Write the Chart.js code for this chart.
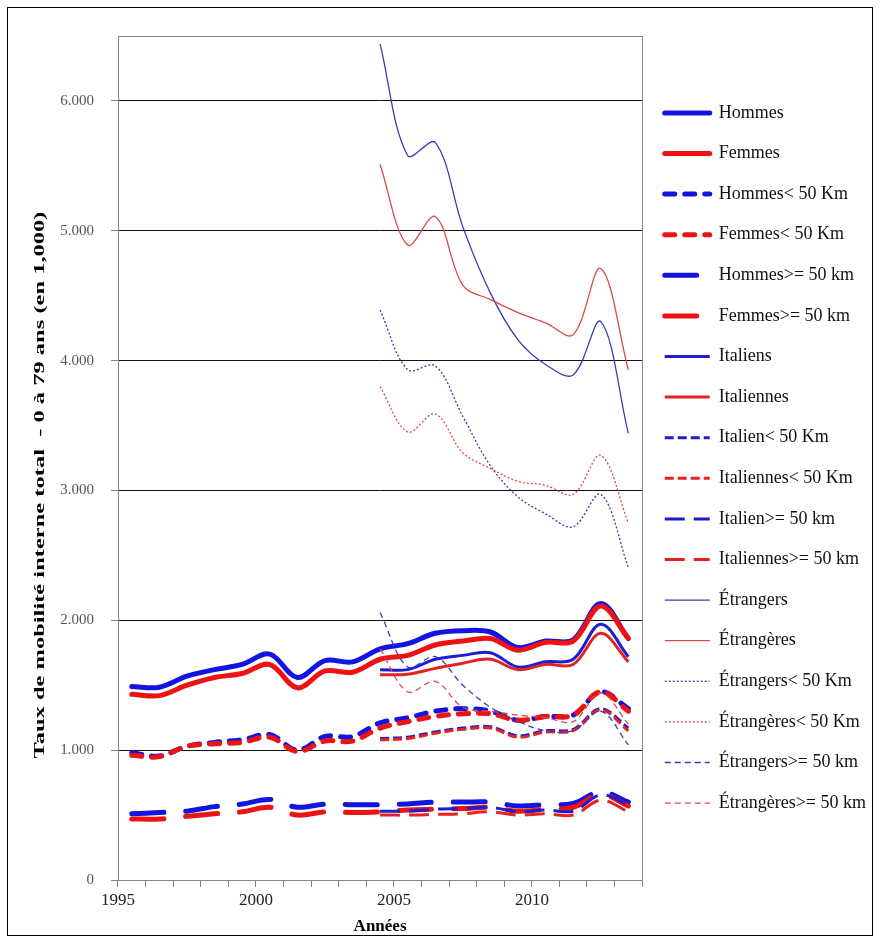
<!DOCTYPE html>
<html>
<head>
<meta charset="utf-8">
<script src="https://cdn.jsdelivr.net/npm/chart.js@4.4.0/dist/chart.umd.min.js"></script>
<style>
  body { margin: 0; background: #fff; }
  #wrap { position: relative; width: 880px; height: 941px; }
  #cadre { position: absolute; left: 7px; top: 7px; width: 864px; height: 927px; border: 1px solid #000; pointer-events: none; }
</style>
</head>
<body>
<div id="wrap">
  <canvas id="lineChart"></canvas>
  <div id="cadre"></div>
</div>
<script>
// années (catégories)
var annees = ['1995', '1996', '1997', '1998', '1999', '2000', '2001', '2002', '2003', '2004',
              '2005', '2006', '2007', '2008', '2009', '2010', '2011', '2012', '2013'];
var vide = [null, null, null, null, null, null, null, null, null]; // 1995-2003 sans données

// séries totales 1995-2013
var hommes = [1.49, 1.485, 1.57, 1.62, 1.66, 1.74, 1.56, 1.69, 1.68, 1.78, 1.82, 1.90, 1.92, 1.91, 1.79, 1.84, 1.85, 2.13, 1.86];
var femmes = [1.43, 1.42, 1.50, 1.56, 1.59, 1.66, 1.48, 1.61, 1.60, 1.70, 1.73, 1.81, 1.84, 1.86, 1.77, 1.83, 1.84, 2.11, 1.86];
var hommesMoins50 = [0.98, 0.955, 1.03, 1.06, 1.08, 1.12, 1.00, 1.105, 1.105, 1.21, 1.25, 1.30, 1.32, 1.30, 1.23, 1.26, 1.27, 1.45, 1.32];
var femmesMoins50 = [0.96, 0.95, 1.03, 1.05, 1.06, 1.10, 0.99, 1.07, 1.07, 1.17, 1.22, 1.26, 1.28, 1.28, 1.23, 1.26, 1.27, 1.45, 1.30];
var hommesPlus50 = [0.51, 0.52, 0.53, 0.565, 0.585, 0.62, 0.56, 0.585, 0.58, 0.58, 0.585, 0.60, 0.60, 0.60, 0.57, 0.58, 0.59, 0.68, 0.60];
var femmesPlus50 = [0.47, 0.47, 0.49, 0.51, 0.525, 0.56, 0.50, 0.525, 0.52, 0.525, 0.54, 0.545, 0.55, 0.56, 0.53, 0.545, 0.56, 0.66, 0.57];

// séries 2004-2013
var italiens = vide.concat([1.62, 1.62, 1.70, 1.73, 1.75, 1.64, 1.68, 1.70, 1.97, 1.72]);
var italiennes = vide.concat([1.58, 1.585, 1.63, 1.67, 1.70, 1.62, 1.66, 1.66, 1.90, 1.68]);
var italienMoins50 = vide.concat([1.09, 1.10, 1.14, 1.17, 1.18, 1.11, 1.15, 1.16, 1.32, 1.17]);
var italiennesMoins50 = vide.concat([1.08, 1.09, 1.13, 1.16, 1.17, 1.10, 1.14, 1.15, 1.31, 1.15]);
var italienPlus50 = vide.concat([0.53, 0.53, 0.545, 0.55, 0.56, 0.525, 0.54, 0.53, 0.655, 0.58]);
var italiennesPlus50 = vide.concat([0.50, 0.50, 0.505, 0.51, 0.525, 0.50, 0.51, 0.50, 0.615, 0.525]);
var etrangers = vide.concat([6.44, 5.58, 5.68, 5.03, 4.52, 4.16, 3.97, 3.89, 4.30, 3.44]);
var etrangeres = vide.concat([5.51, 4.89, 5.11, 4.58, 4.47, 4.37, 4.29, 4.20, 4.71, 3.93]);
var etrangersMoins50 = vide.concat([4.39, 3.93, 3.96, 3.57, 3.19, 2.95, 2.82, 2.72, 2.97, 2.41]);
var etrangeresMoins50 = vide.concat([3.80, 3.45, 3.59, 3.29, 3.17, 3.07, 3.04, 2.97, 3.27, 2.75]);
var etrangersPlus50 = vide.concat([2.06, 1.64, 1.72, 1.50, 1.33, 1.22, 1.15, 1.15, 1.30, 1.04]);
var etrangeresPlus50 = vide.concat([1.78, 1.45, 1.53, 1.33, 1.30, 1.27, 1.25, 1.22, 1.44, 1.20]);

var titreY = 'Taux de mobilité interne total  - 0 à 79 ans (en 1,000)';

var serif = 'Liberation Serif';
var bleu = '#1414e0', rouge = '#ee1212';
var bleuM = '#1c1cd0', rougeM = '#e52222';
var bleuF = '#3a3ab8', rougeF = '#d84a4a';
var gris = '#868686';

function serie(label, data, color, width, dash, cap) {
    return {
        label: label,
        data: data,
        borderColor: color,
        backgroundColor: color,
        borderWidth: width,
        borderDash: dash,
        borderCapStyle: cap || 'butt',
        pointRadius: 0,
        pointHoverRadius: 0,
        tension: 0.35,
        fill: false
    };
}

var datasets = [
    serie('Hommes', hommes, bleu, 5, [], 'round'),
    serie('Femmes', femmes, rouge, 5, [], 'round'),
    serie('Hommes< 50 Km', hommesMoins50, bleu, 5, [10, 10], 'round'),
    serie('Femmes< 50 Km', femmesMoins50, rouge, 5, [10, 10], 'round'),
    serie('Hommes>= 50 km', hommesPlus50, bleu, 5, [32, 22], 'round'),
    serie('Femmes>= 50 km', femmesPlus50, rouge, 5, [32, 22], 'round'),
    serie('Italiens', italiens, bleuM, 3, []),
    serie('Italiennes', italiennes, rougeM, 3, []),
    serie('Italien< 50 Km', italienMoins50, bleuM, 3, [9, 4]),
    serie('Italiennes< 50 Km', italiennesMoins50, rougeM, 3, [9, 4]),
    serie('Italien>= 50 km', italienPlus50, bleuM, 3, [20, 9]),
    serie('Italiennes>= 50 km', italiennesPlus50, rougeM, 3, [20, 9]),
    serie('Étrangers', etrangers, bleuF, 1.3, []),
    serie('Étrangères', etrangeres, rougeF, 1.3, []),
    serie('Étrangers< 50 Km', etrangersMoins50, bleuF, 1.3, [2, 2]),
    serie('Étrangères< 50 Km', etrangeresMoins50, rougeF, 1.3, [2, 2]),
    serie('Étrangers>= 50 km', etrangersPlus50, bleuF, 1.3, [6, 4]),
    serie('Étrangères>= 50 km', etrangeresPlus50, rougeF, 1.3, [6, 4])
];
// comme dans Excel : la dernière série est dessinée par-dessus
datasets.forEach(function (d, i) { d.order = datasets.length - i; });

// bordure grise de la zone de traçage
var cadreGraphique = {
    id: 'cadreGraphique',
    afterDraw: function (chart) {
        var a = chart.chartArea, ctx = chart.ctx;
        ctx.save();
        ctx.strokeStyle = gris;
        ctx.lineWidth = 1;
        ctx.strokeRect(Math.round(a.left) + 0.5, Math.round(a.top) + 0.5,
                       Math.round(a.right - a.left), Math.round(a.bottom - a.top));
        ctx.restore();
    }
};

// titre de l'axe Y, police étroite comme dans l'original
var titreAxeY = {
    id: 'titreAxeY',
    afterDraw: function (chart) {
        var ctx = chart.ctx;
        ctx.save();
        ctx.translate(40, 485);
        ctx.rotate(-Math.PI / 2);
        ctx.scale(1, 0.62);
        ctx.font = 'bold 24.5px "' + serif + '"';
        ctx.textAlign = 'center';
        ctx.textBaseline = 'middle';
        ctx.fillStyle = '#000';
        ctx.fillText(titreY, 0, 0);
        ctx.restore();
    }
};

var canvas = document.getElementById('lineChart');
var lineChart = new Chart(canvas, {
    type: 'line',
    data: { labels: annees, datasets: datasets },
    plugins: [cadreGraphique, titreAxeY],
    options: {
        responsive: true,
        maintainAspectRatio: false,
        animation: false,
        layout: { padding: { top: 36, right: 4, bottom: 0, left: 0 } },
        plugins: {
            tooltip: { enabled: false },
            legend: {
                position: 'right',
                align: 'center',
                fullSize: false,
                maxWidth: 260,
                labels: {
                    usePointStyle: true,
                    pointStyle: 'line',
                    pointStyleWidth: 45,
                    padding: 22.6,
                    color: '#111',
                    font: { family: serif, size: 18 },
                    sort: function (a, b) { return a.datasetIndex - b.datasetIndex; },
                    generateLabels: function (chart) {
                        var items = Chart.defaults.plugins.legend.labels.generateLabels(chart);
                        items.forEach(function (it) {
                            var ds = chart.data.datasets[it.datasetIndex];
                            it.lineDash = ds.borderDash;
                            it.lineCap = ds.borderCapStyle;
                            it.lineWidth = ds.borderWidth;
                        });
                        return items;
                    }
                }
            }
        },
        scales: {
            x: {
                offset: true,
                afterFit: function (scale) { scale.height = 61; },
                grid: { offset: true, drawOnChartArea: false, tickLength: 7, color: gris },
                border: { color: gris },
                ticks: {
                    autoSkip: false,
                    maxRotation: 0,
                    labelOffset: -13.7,
                    padding: 3,
                    color: '#222',
                    font: { family: serif, size: 17 },
                    callback: function (v) {
                        var a = this.getLabelForValue(v);
                        return (+a) % 5 === 0 ? a : '';
                    }
                },
                title: {
                    display: true,
                    text: 'Années',
                    color: '#000',
                    font: { family: serif, size: 17, weight: 'bold' },
                    padding: { top: 0, bottom: 4 }
                }
            },
            y: {
                min: 0,
                max: 6.5,
                afterFit: function (scale) { scale.width = 118; },
                grid: {
                    color: function (c) {
                        return (c.tick && c.tick.value > 0 && c.tick.value < 6.5) ? '#111' : 'rgba(0,0,0,0)';
                    },
                    tickColor: function (c) {
                        return (c.tick && c.tick.value % 1 === 0) ? gris : 'rgba(0,0,0,0)';
                    },
                    tickLength: 7
                },
                border: { color: gris },
                ticks: {
                    stepSize: 1,
                    padding: 17,
                    color: '#555',
                    font: { family: serif, size: 15 },
                    callback: function (v) {
                        if (v % 1 !== 0) return '';
                        return v === 0 ? '0' : v.toFixed(3);
                    }
                }
            }
        }
    }
});
</script>
</body>
</html>
